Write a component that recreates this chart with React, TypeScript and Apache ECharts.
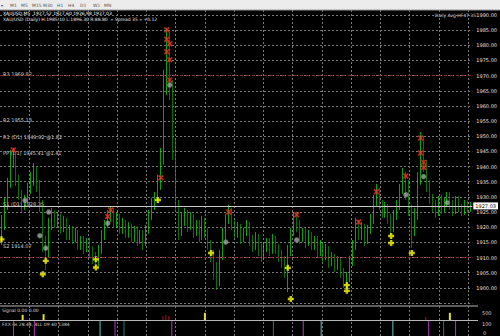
import React, { useEffect, useRef } from "react";
import * as echarts from "echarts";

// closing price of each bar (left to right)
const closes: number[] = [
  1920.8, 1927.4, 1934.0, 1942.2, 1943.9, 1935.6, 1930.7, 1927.4, 1929.0, 1932.3,
  1935.6, 1938.9, 1934.0, 1927.4, 1915.8, 1910.9, 1920.8, 1924.1, 1921.7, 1923.1,
  1919.8, 1921.7, 1917.5, 1919.1, 1916.5, 1918.4, 1914.2, 1915.8, 1913.2, 1915.1,
  1911.8, 1909.9, 1908.5, 1912.5, 1917.5, 1920.8, 1924.1, 1925.0, 1921.7, 1923.1,
  1919.8, 1921.1, 1918.4, 1919.8, 1917.1, 1919.1, 1916.5, 1917.5, 1915.1, 1919.1,
  1924.1, 1927.4, 1929.7, 1934.0, 1942.2, 1965.3, 1983.5, 1967.0, 1945.5, 1927.4,
  1919.1, 1922.4, 1924.1, 1920.8, 1923.1, 1918.4, 1920.8, 1917.5, 1921.7, 1918.4,
  1914.2, 1910.9, 1905.9, 1901.9, 1910.9, 1917.5, 1923.1, 1925.0, 1920.8, 1918.4,
  1919.8, 1916.5, 1918.4, 1920.4, 1915.8, 1914.2, 1916.5, 1912.5, 1910.9, 1913.2,
  1915.1, 1912.5, 1915.8, 1913.2, 1910.9, 1908.5, 1905.9, 1912.5, 1918.4, 1923.1,
  1920.8, 1916.5, 1918.4, 1915.1, 1917.5, 1914.2, 1915.8, 1911.8, 1913.8, 1910.9,
  1912.5, 1908.5, 1909.9, 1907.2, 1908.5, 1905.2, 1901.9, 1903.3, 1908.5, 1914.2,
  1920.8, 1917.5, 1919.8, 1915.8, 1919.1, 1922.4, 1929.0, 1931.6, 1927.4, 1925.0,
  1926.4, 1923.1, 1919.8, 1924.1, 1927.4, 1932.3, 1936.3, 1934.0, 1925.7, 1919.1,
  1924.1, 1935.6, 1948.8, 1940.6, 1934.0, 1929.7, 1927.4, 1925.0, 1929.0, 1926.4,
  1928.3, 1930.3, 1927.4, 1925.7, 1929.0, 1926.4, 1925.0, 1927.7, 1926.0, 1927.0,
];
// highest price of each bar
const highs: number[] = [
  1924.0, 1929.7, 1936.3, 1945.5, 1946.2, 1944.8, 1937.3, 1932.3, 1930.7, 1934.6,
  1938.2, 1941.2, 1940.2, 1935.6, 1929.0, 1917.1, 1923.1, 1926.4, 1925.7, 1925.0,
  1924.4, 1923.7, 1923.1, 1920.8, 1920.4, 1919.8, 1919.1, 1917.1, 1917.1, 1916.5,
  1916.5, 1913.8, 1911.8, 1914.2, 1919.1, 1922.4, 1925.7, 1927.0, 1926.4, 1925.0,
  1924.4, 1923.1, 1922.4, 1921.7, 1921.1, 1920.4, 1920.4, 1919.1, 1919.1, 1920.8,
  1925.7, 1929.7, 1931.6, 1937.3, 1946.2, 1971.9, 1985.8, 1984.4, 1968.6, 1948.8,
  1929.0, 1925.0, 1926.4, 1925.7, 1925.0, 1924.4, 1922.4, 1922.4, 1923.7, 1923.1,
  1919.8, 1915.8, 1912.5, 1908.5, 1912.5, 1919.8, 1924.4, 1927.4, 1926.4, 1922.4,
  1921.7, 1921.1, 1919.8, 1922.4, 1921.7, 1917.5, 1918.4, 1917.8, 1914.5, 1915.1,
  1916.5, 1916.5, 1917.8, 1917.1, 1914.5, 1912.5, 1910.5, 1914.2, 1919.8, 1925.0,
  1925.0, 1922.4, 1919.8, 1919.8, 1919.1, 1918.4, 1917.1, 1917.1, 1915.8, 1915.1,
  1914.5, 1913.8, 1911.8, 1911.2, 1910.5, 1909.9, 1906.6, 1905.2, 1910.5, 1915.8,
  1923.1, 1922.4, 1921.7, 1921.1, 1920.8, 1924.4, 1930.7, 1934.3, 1933.0, 1929.0,
  1928.3, 1927.7, 1924.4, 1925.7, 1929.0, 1934.3, 1939.6, 1938.2, 1935.6, 1927.4,
  1926.4, 1938.2, 1951.4, 1950.1, 1942.2, 1935.6, 1931.0, 1929.0, 1930.3, 1930.7,
  1929.7, 1931.6, 1931.6, 1929.0, 1930.3, 1930.3, 1927.7, 1929.0, 1928.7, 1928.3,
];
// lowest price of each bar
const lows: number[] = [
  1914.2, 1919.1, 1925.7, 1933.0, 1939.6, 1933.6, 1929.0, 1925.0, 1925.7, 1927.7,
  1931.0, 1933.6, 1931.6, 1925.0, 1911.8, 1905.9, 1909.9, 1919.1, 1919.8, 1920.1,
  1917.8, 1918.4, 1915.8, 1915.8, 1914.5, 1915.1, 1912.5, 1912.5, 1911.2, 1911.8,
  1909.9, 1907.9, 1906.6, 1907.2, 1911.2, 1915.8, 1919.8, 1921.7, 1919.8, 1919.8,
  1917.8, 1917.8, 1916.5, 1916.5, 1915.1, 1915.1, 1913.8, 1914.5, 1912.5, 1913.8,
  1917.8, 1922.4, 1925.7, 1928.3, 1932.3, 1940.6, 1963.6, 1962.0, 1942.2, 1925.0,
  1915.8, 1917.1, 1920.4, 1918.4, 1919.1, 1916.5, 1917.1, 1915.1, 1915.8, 1916.5,
  1912.5, 1908.5, 1902.6, 1899.3, 1900.6, 1909.2, 1915.8, 1921.1, 1919.1, 1916.5,
  1916.5, 1914.5, 1915.1, 1917.1, 1913.8, 1911.8, 1912.5, 1910.5, 1908.5, 1909.2,
  1911.8, 1910.5, 1911.2, 1911.2, 1908.5, 1906.6, 1903.3, 1898.6, 1910.5, 1917.1,
  1918.4, 1914.5, 1915.1, 1913.2, 1913.8, 1912.5, 1912.5, 1909.9, 1910.5, 1908.5,
  1909.2, 1906.6, 1907.2, 1905.2, 1905.9, 1903.3, 1900.0, 1899.3, 1901.9, 1907.2,
  1912.5, 1915.8, 1915.8, 1913.8, 1914.5, 1917.8, 1921.1, 1927.0, 1925.7, 1923.1,
  1923.1, 1921.1, 1917.1, 1918.4, 1922.4, 1925.7, 1931.0, 1929.0, 1923.7, 1913.2,
  1917.1, 1922.4, 1934.0, 1938.2, 1931.6, 1927.7, 1925.0, 1923.1, 1923.7, 1924.4,
  1925.0, 1927.0, 1925.7, 1923.7, 1924.4, 1925.0, 1923.7, 1924.0, 1924.7, 1925.0,
];
const firstOpen = 1916.0;
const currentPrice = 1927.03;
const levelPrices = [1970, 1910];

// indicator marks on the price chart: [bar index, price]
const redMarks: number[][] = [
  [4, 1945.5], [37, 1925.7], [36, 1923.5], [54, 1936.3], [56, 1985.1], [56, 1982.0],
  [57, 1980.5], [56, 1977.9], [57, 1975.2], [57, 1968.6], [77, 1925.0], [100, 1924.1],
  [121, 1921.7], [127, 1931.7], [137, 1936.9], [142, 1949.4], [142, 1944.5],
  [143, 1941.4], [143, 1939.7],
];
const grayMarks: number[][] = [
  [8, 1928.8], [16, 1925.0], [13, 1917.2], [15, 1913.1], [36, 1921.3], [57, 1966.9],
  [76, 1915.1], [100, 1915.8], [137, 1930.7], [143, 1936.7], [151, 1928.1],
];
const yellowMarks: number[][] = [
  [0, 1916.0], [15, 1908.9], [14, 1904.5], [32, 1909.4], [32, 1906.7], [53, 1929.0],
  [71, 1911.5], [97, 1906.6], [98, 1896.3], [117, 1900.9], [117, 1899.0], [132, 1917.1],
  [132, 1914.8], [139, 1911.5],
];

// sub-window 1 histogram: [bar index, value]
const signalYellow: number[][] = [[7, 400], [14, 450], [68, 550], [150, 550]];
const signalRed: number[][] = [[54, 300], [55, 400], [56, 300], [142, 250]];
// sub-window 2 signal lines (bar indices)
const magentaIdx = [4, 11, 38, 57, 101, 143, 152];
const cyanIdx = [33, 107, 131];
const tealIdx = [41, 91, 148];

const timeframes = ["M1", "M5", "M15", "M30", "H1", "H4", "D1", "W1", "MN"];
const timeframeX = [10, 21, 32, 43, 57, 68, 80, 93, 104];
const levelLabels = ["R3 1969.82", "R2 1955.13", "R1 (D1) 1949.92 @1.82", "PP (D1) 1945.41 @1.41", "S1 (D1) 1928.35", "S2 1914.07"];
const levelLabelY = [74, 120, 137, 153, 204, 246];

const FONT = "DejaVu Sans";

export default function App() {
  const ref = useRef<HTMLDivElement>(null);
  useEffect(() => {
    document.body.style.margin = "0";
    const chart = echarts.init(ref.current!, undefined, { renderer: "svg" });
    const cats = closes.map((_, i) => String(i));
    const ohlc = closes.map((c, i) => {
      const o = i === 0 ? firstOpen : closes[i - 1];
      return [o, c, Math.min(o, c, lows[i]), Math.max(o, c, highs[i])];
    });
    const lineBars = (idx: number[]) => idx.map((i) => [i, 1]);
    const txt = (x: number, y: number, text: string, fill: string, size = 5, align = "left") => ({
      type: "text", x, y, silent: true,
      style: { text, fill, fontSize: size, fontFamily: FONT, align, verticalAlign: "middle" },
    });
    const graphic: any[] = [
      { type: "rect", shape: { x: 0, y: 0, width: 500, height: 10 }, style: { fill: "#ececec" } },
      { type: "line", shape: { x1: 0, y1: 10, x2: 500, y2: 10 }, style: { stroke: "#9a9a9a", lineWidth: 1 } },
      txt(1, 5, "▾", "#444", 4),
      ...timeframes.map((t, i) => txt(timeframeX[i], 5, t, "#555", 4.5)),
      txt(3, 13.5, "XAUUSD,M5  1927.52 1927.60 1926.98 1927.03", "#ffffff", 4.5),
      txt(3, 19, "XAU/USD (Daily) H:1985.10 L:1896.30 R:88.80  » Spread 35 » +0.12", "#e8e8e8", 4.5),
      txt(476, 15, "Daily Avg HF4T 35", "#d8d8d8", 4.5, "right"),
      ...levelLabels.map((t, i) => txt(3, levelLabelY[i], t, "#d0d0d0", 5)),
      { type: "line", shape: { x1: 0, y1: 306, x2: 478, y2: 306 }, style: { stroke: "#b8b8b8", lineWidth: 1 } },
      { type: "line", shape: { x1: 0, y1: 320.5, x2: 478, y2: 320.5 }, style: { stroke: "#b8b8b8", lineWidth: 1 } },
      txt(2, 310, "Signal 0.00 0.00", "#d8d8d8", 4.5),
      txt(2, 324, "FXX 4s 28.44, 4LL 09 40 1384", "#d8d8d8", 4.5),
      txt(482, 313, "500", "#d8d8d8", 5),
      txt(482, 324, "100", "#d8d8d8", 5),
      txt(483, 333, "0", "#d8d8d8", 5),
    ];
    chart.setOption({
      animation: false,
      backgroundColor: "#000000",
      grid: [
        { left: 0, right: 22, top: 15, height: 288 },
        { left: 0, right: 22, top: 307, height: 13 },
        { left: 0, right: 22, top: 321, height: 15 },
        { left: 0, right: 22, top: 10, height: 326 },
      ],
      xAxis: [
        { type: "category", gridIndex: 0, data: cats, show: false, boundaryGap: true },
        { type: "category", gridIndex: 1, data: cats, show: false, boundaryGap: true },
        { type: "category", gridIndex: 2, data: cats, show: false, boundaryGap: true },
        {
          type: "value", gridIndex: 3, min: 0, max: 478, interval: 29.25,
          axisLabel: { show: false }, axisLine: { show: false }, axisTick: { show: false },
          splitLine: { show: true, showMinLine: false, showMaxLine: false, lineStyle: { color: "#7a7a7a", type: [2, 2], width: 1 } },
        },
      ],
      yAxis: [
        {
          type: "value", gridIndex: 0, position: "right", min: 1895, max: 1990, interval: 5,
          axisLine: { show: false }, axisTick: { show: false },
          axisLabel: {
            color: "#e0e0e0", fontSize: 5, fontFamily: FONT, margin: 4,
            formatter: (v: number) => (v === 1895 ? "" : v.toFixed(2)),
          },
          splitLine: { show: true, lineStyle: { color: "#7a7a7a", type: [2, 2], width: 1 } },
        },
        { type: "value", gridIndex: 1, min: 0, max: 1000, show: false },
        { type: "value", gridIndex: 2, min: 0, max: 1, show: false },
        { type: "value", gridIndex: 3, min: 0, max: 1, show: false },
      ],
      series: [
        {
          type: "candlestick", xAxisIndex: 0, yAxisIndex: 0, data: ohlc, barWidth: 1,
          itemStyle: { color: "#00f000", color0: "#00a800", borderColor: "#00f000", borderColor0: "#00a800", borderWidth: 0.7 },
          markLine: {
            symbol: "none", silent: true, animation: false,
            data: [
              ...levelPrices.map((v) => ({ yAxis: v, lineStyle: { color: "#8a2a2a", type: [3, 3], width: 1 }, label: { show: false } })),
              {
                yAxis: currentPrice, lineStyle: { color: "#c8c8c8", type: "solid", width: 1 },
                label: {
                  show: true, position: "end", distance: 1, formatter: currentPrice.toFixed(2),
                  backgroundColor: "#ffffff", color: "#000000", fontSize: 5, fontFamily: FONT, padding: [1, 2],
                },
              },
            ],
          },
        },
        {
          type: "scatter", xAxisIndex: 0, yAxisIndex: 0, data: grayMarks, symbol: "circle", symbolSize: 5,
          itemStyle: { color: "#a8a8a8", borderColor: "#707070", borderWidth: 0.5 },
        },
        {
          type: "scatter", xAxisIndex: 0, yAxisIndex: 0, data: redMarks, symbolSize: 6,
          symbol: "path://M0,2L2,0L5,3L8,0L10,2L7,5L10,8L8,10L5,7L2,10L0,8L3,5Z",
          itemStyle: { color: "#ff2a2a" },
        },
        {
          type: "scatter", xAxisIndex: 0, yAxisIndex: 0, data: yellowMarks, symbolSize: 6,
          symbol: "path://M3,0H7V3H10V7H7V10H3V7H0V3H3Z",
          itemStyle: { color: "#ffff00" },
        },
        { type: "bar", xAxisIndex: 1, yAxisIndex: 1, data: signalYellow, barWidth: 2, barGap: "-100%", itemStyle: { color: "#e8e030" } },
        { type: "bar", xAxisIndex: 1, yAxisIndex: 1, data: signalRed, barWidth: 1.5, barGap: "-100%", itemStyle: { color: "#6a1010" } },
        { type: "bar", xAxisIndex: 2, yAxisIndex: 2, data: lineBars(magentaIdx), barWidth: 1, barGap: "-100%", itemStyle: { color: "#b438b4" } },
        { type: "bar", xAxisIndex: 2, yAxisIndex: 2, data: lineBars(cyanIdx), barWidth: 1, barGap: "-100%", itemStyle: { color: "#60c4c4" } },
        { type: "bar", xAxisIndex: 2, yAxisIndex: 2, data: lineBars(tealIdx), barWidth: 1, barGap: "-100%", itemStyle: { color: "#2a7a6a" } },
      ],
      graphic,
    });
    return () => chart.dispose();
  }, []);
  return <div ref={ref} style={{ position: "fixed", left: 0, top: 0, width: 500, height: 336 }} />;
}
